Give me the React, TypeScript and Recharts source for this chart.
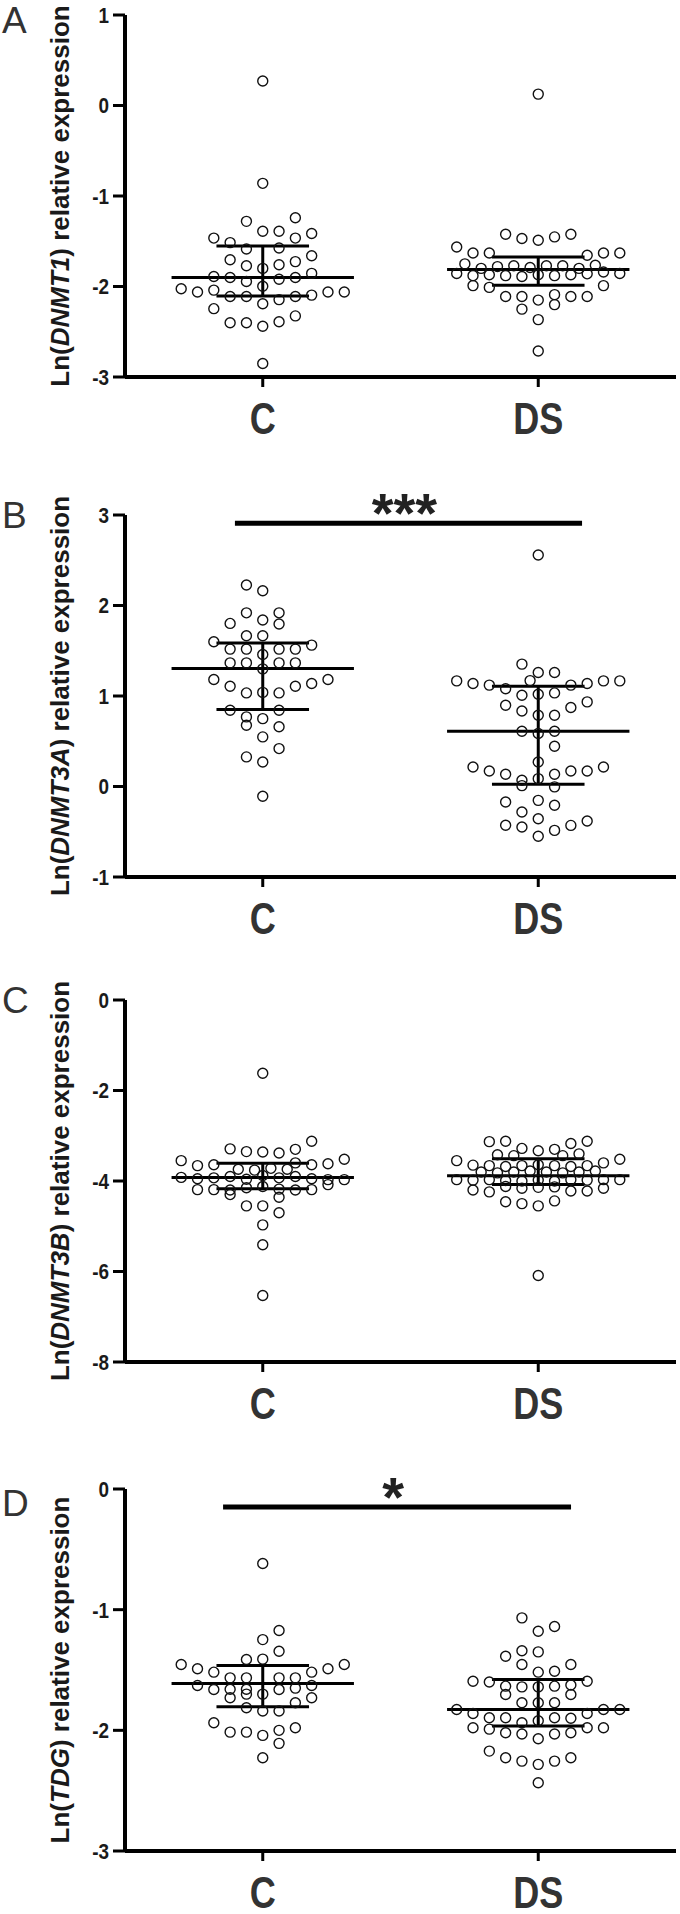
import { ScatterChart, Scatter, XAxis, YAxis, ReferenceLine } from "recharts";

// group names on the x axis
const groups = ["C", "DS"];

// each dot: [swarm column, Ln(relative expression)]
const aC = [
  [0, 0.27], [0, -0.86],
  [2, -1.24], [-1, -1.28], [0, -1.39], [1, -1.39], [3, -1.415], [-3, -1.465], [2, -1.465], [-2, -1.515],
  [-1, -1.585], [1, -1.575],
  [3, -1.66], [-2, -1.705], [2, -1.725], [-1, -1.77], [1, -1.76], [0, -1.8],
  [3, -1.855], [-3, -1.89], [-2, -1.9], [-1, -1.945], [1, -1.92], [2, -1.9],
  [0, -1.998],
  [-5, -2.025], [-4, -2.06], [-3, -2.04], [-2, -2.11], [-1, -2.11], [1, -2.145], [2, -2.11], [3, -2.095], [4, -2.06], [5, -2.06],
  [0, -2.19], [-3, -2.245], [2, -2.325], [-2, -2.4], [-1, -2.4], [1, -2.39], [0, -2.44], [0, -2.85],
];
const aDS = [
  [0, 0.126],
  [-2, -1.423], [-1, -1.47], [0, -1.489], [1, -1.452], [2, -1.423],
  [-5, -1.563], [-4, -1.63], [-3, -1.63], [3, -1.655], [4, -1.63], [5, -1.63],
  [-4.5, -1.75], [-3.5, -1.8], [-2.5, -1.78], [-1.5, -1.77], [-0.5, -1.79], [0.5, -1.77], [1.5, -1.77], [2.5, -1.8], [3.5, -1.765],
  [-5, -1.857], [-4, -1.88], [-3, -1.87], [-2, -1.88], [-1, -1.89], [0, -1.87], [1, -1.88], [2, -1.87], [3, -1.86], [4, -1.84], [5, -1.857],
  [-4, -1.99], [-3, -2.01], [4, -1.99],
  [-2, -2.11], [-1, -2.11], [0, -2.15], [1, -2.09], [2, -2.11], [3, -2.11],
  [1, -2.2], [-1, -2.25], [0, -2.366], [0, -2.713],
];
const bC = [
  [-1, 2.226], [0, 2.163], [-1, 1.919], [1, 1.919], [0, 1.839], [-2, 1.802], [1, 1.795],
  [-1, 1.665], [0, 1.665], [-3, 1.599], [3, 1.562], [-2, 1.518], [-1, 1.518], [1, 1.518], [2, 1.518],
  [0, 1.459], [-2, 1.366], [-1, 1.366], [1, 1.366], [2, 1.366], [0, 1.3],
  [-3, 1.182], [4, 1.182], [3, 1.138], [-2, 1.108], [2, 1.108], [-1, 1.034], [0, 1.04], [1, 1.034],
  [-2, 0.843], [1, 0.843], [-1, 0.769], [0, 0.75], [-1, 0.677], [1, 0.66], [0, 0.548],
  [1, 0.419], [-1, 0.327], [0, 0.271], [0, -0.108],
];
const bDS = [
  [0, 2.558], [-1, 1.352], [0, 1.26], [1, 1.26], [-0.5, 1.17],
  [-5, 1.167], [-4, 1.138], [-3, 1.12], [-2, 1.08], [2, 1.12], [3, 1.138], [4, 1.167], [5, 1.167],
  [-1, 1.009], [0, 1.02], [1, 1.034], [-2, 0.898], [3, 0.935], [-1, 0.835], [2, 0.873], [0, 0.788], [1, 0.788],
  [-1, 0.611], [0, 0.585], [1, 0.611], [1, 0.445], [0, 0.271],
  [-4, 0.216], [-3, 0.172], [-2, 0.135], [-1, 0.069], [0, 0.087], [1, 0.135], [2, 0.172], [3, 0.172], [4, 0.216],
  [-1, 0.01], [1, -0.004],
  [-2, -0.172], [0, -0.153], [1, -0.208], [-1, -0.282], [0, -0.356], [3, -0.382], [-2, -0.429], [-1, -0.448], [1, -0.485], [2, -0.43], [0, -0.55],
];
const cC = [
  [0, -1.62], [3, -3.12],
  [-2, -3.29], [-1, -3.35], [0, -3.36], [1, -3.38], [2, -3.3],
  [-5, -3.55], [-4, -3.66], [-3, -3.64], [2, -3.6], [3, -3.64], [4, -3.62], [5, -3.52],
  [-1.5, -3.74], [-0.5, -3.76], [0.5, -3.72], [1.5, -3.74],
  [-5, -3.92], [-4, -3.95], [-3, -3.93], [-2, -3.9], [-1, -3.96], [0, -3.88], [1, -3.93], [2, -3.9], [3, -3.95], [4, -3.97], [5, -3.97],
  [-4, -4.19], [-3, -4.19], [-2, -4.2], [-1, -4.15], [0, -4.12], [1, -4.18], [2, -4.2], [3, -4.19], [4, -4.08],
  [-2, -4.3], [1, -4.36], [-1, -4.55], [0, -4.55], [1, -4.7], [0, -4.97], [0, -5.41], [0, -6.53],
];
const cDS = [
  [-3, -3.13], [-2, -3.12], [2, -3.17], [3, -3.12],
  [-1, -3.28], [0, -3.33], [1, -3.3],
  [-2.5, -3.42], [-1.5, -3.44], [1.5, -3.44], [2.5, -3.4],
  [-5, -3.55], [-4, -3.65], [-3, -3.66], [-2, -3.68], [-1, -3.66], [0, -3.64], [1, -3.66], [2, -3.68], [3, -3.66], [4, -3.6], [5, -3.52],
  [-3.5, -3.8], [-2.5, -3.82], [-1.5, -3.8], [-0.5, -3.78], [0.5, -3.8], [1.5, -3.82], [2.5, -3.8], [3.5, -3.78],
  [-5, -3.97], [-4, -3.98], [-3, -3.97], [-2, -3.99], [-1, -4.0], [0, -3.98], [1, -4.0], [2, -3.97], [3, -3.98], [4, -3.97], [5, -3.97],
  [-4, -4.2], [-3, -4.24], [-2, -4.12], [-1, -4.16], [0, -4.14], [1, -4.13], [2, -4.22], [3, -4.22], [4, -4.16],
  [-2, -4.46], [-1, -4.5], [0, -4.55], [1, -4.44],
  [0, -6.09],
];
const dC = [
  [0, -0.618], [1, -1.173], [0, -1.248], [1, -1.344], [-1, -1.413], [0, -1.41],
  [-5, -1.454], [-4, -1.49], [-3, -1.518], [-2, -1.565], [-1, -1.565], [1, -1.565], [2, -1.565], [3, -1.518], [4, -1.49], [5, -1.454],
  [-4, -1.628], [-3, -1.661], [-2, -1.66], [-1, -1.66], [1, -1.661], [2, -1.65], [3, -1.628],
  [-2, -1.73], [-1, -1.7], [0, -1.7], [3, -1.73], [2, -1.772], [-1, -1.813], [0, -1.84], [1, -1.84],
  [-3, -1.937], [-2, -2.015], [-1, -2.015], [0, -2.042], [1, -2.0], [2, -1.979], [1, -2.108], [0, -2.227],
];
const dDS = [
  [-1, -1.068], [0, -1.179], [1, -1.14], [-2, -1.386], [-1, -1.34], [0, -1.35], [-1, -1.454], [2, -1.454], [0, -1.518], [1, -1.51],
  [-4, -1.593], [-3, -1.6], [-2, -1.634], [-1, -1.64], [0, -1.64], [1, -1.634], [2, -1.625], [3, -1.593],
  [-2, -1.703], [2, -1.703], [-1, -1.772], [0, -1.772], [1, -1.772],
  [-5, -1.827], [-4, -1.86], [-3, -1.896], [-2, -1.896], [-1, -1.937], [0, -1.92], [1, -1.896], [2, -1.9], [3, -1.86], [4, -1.827], [5, -1.827],
  [-4, -1.979], [-3, -1.99], [-2, -2.02], [-1, -2.03], [0, -2.07], [1, -2.03], [2, -2.02], [3, -1.979], [4, -1.979],
  [-3, -2.172], [-2, -2.227], [-1, -2.255], [0, -2.282], [1, -2.255], [2, -2.227], [0, -2.434],
];

// [centre line, upper bar, lower bar] per group
const aStats = [[-1.9, -1.552, -2.105], [-1.813, -1.673, -1.987]];
const bStats = [[1.304, 1.587, 0.85], [0.611, 1.108, 0.025]];
const cStats = [[-3.92, -3.605, -4.17], [-3.885, -3.51, -4.08]];
const dStats = [[-1.612, -1.463, -1.805], [-1.827, -1.579, -1.965]];

// y ticks
const aTicks = [-3, -2, -1, 0, 1];
const bTicks = [-1, 0, 1, 2, 3];
const cTicks = [-8, -6, -4, -2, 0];
const dTicks = [-3, -2, -1, 0];

// significance bars: [x from, x to, y, stars]
const bSig = [0.399, 1.659, 2.91, "***"];
const dSig = [0.356, 1.619, -0.149, "*"];

const SLOT = 0.0592;
const MEAN_HALF = 0.331;
const CAP_HALF = 0.168;
const SANS = "'Liberation Sans', Arial, sans-serif";

const panels = [
  { letter: "A", gene: "DNMT1", ticks: aTicks, sets: [aC, aDS], stats: aStats, sig: null, top: -25, letterTop: 2 },
  { letter: "B", gene: "DNMT3A", ticks: bTicks, sets: [bC, bDS], stats: bStats, sig: bSig, top: 475, letterTop: 497 },
  { letter: "C", gene: "DNMT3B", ticks: cTicks, sets: [cC, cDS], stats: cStats, sig: null, top: 960, letterTop: 982 },
  { letter: "D", gene: "TDG", ticks: dTicks, sets: [dC, dDS], stats: dStats, sig: dSig, top: 1449, letterTop: 1485 },
];

const Ring = (p: any) => (
  <circle cx={p.cx} cy={p.cy} r={5} fill="none" stroke="#111" strokeWidth={1.4} />
);

// condensed bold group label under the axis
const XTick = (p: any) => (
  <g transform={`translate(${p.x} ${p.y}) scale(0.82 1)`}>
    <text x={0} y={0} dy="0.72em" textAnchor="middle" fontFamily={SANS} fontWeight={700}
      fontSize={44} fill="#333">{groups[Math.floor(p.payload.value)]}</text>
  </g>
);

const YTick = (p: any) => (
  <g transform={`translate(${p.x} ${p.y}) scale(0.86 1)`}>
    <text x={0} y={0} dy="0.36em" textAnchor="end" fontFamily={SANS} fontWeight={700}
      fontSize={22} fill="#1a1a1a">{p.payload.value}</text>
  </g>
);

const YLabel = (p: any) => {
  const vb = p.viewBox || { x: 0, y: 0, width: 0, height: 0 };
  const cx = 69;
  const cy = vb.y + vb.height / 2;
  return (
    <text x={cx} y={cy} transform={`rotate(-90 ${cx} ${cy})`} textAnchor="middle"
      fontFamily={SANS} fontWeight={700} fontSize={26} fill="#1a1a1a">
      <tspan>Ln(</tspan><tspan fontStyle="italic">{p.gene}</tspan><tspan>) relative expression</tspan>
    </text>
  );
};

const Stars = (p: any) => {
  const vb = p.viewBox || { x: 0, y: 0, width: 0, height: 0 };
  return (
    <text x={vb.x + vb.width / 2 - 4} y={vb.y + 9} textAnchor="middle"
      fontFamily={SANS} fontWeight={700} fontSize={56} fill="#222">{p.text}</text>
  );
};

function Panel({ cfg }: { cfg: any }) {
  const lo = cfg.ticks[0];
  const hi = cfg.ticks[cfg.ticks.length - 1];
  return (
    <div style={{ position: "absolute", left: 0, top: cfg.top }}>
      <ScatterChart width={680} height={500} margin={{ top: 40, right: 4, bottom: 0, left: 0 }}>
        <XAxis type="number" dataKey="x" domain={[0, 2]} ticks={[0.5, 1.5]} interval={0}
          height={98} tickSize={10} tickMargin={15}
          axisLine={{ stroke: "#000", strokeWidth: 4 }} tickLine={{ stroke: "#000", strokeWidth: 3 }}
          tick={<XTick />} />
        <YAxis type="number" dataKey="y" domain={[lo, hi]} ticks={cfg.ticks} interval={0}
          width={125} tickSize={12} tickMargin={4}
          axisLine={{ stroke: "#000", strokeWidth: 4 }} tickLine={{ stroke: "#000", strokeWidth: 3 }}
          tick={<YTick />}
          label={<YLabel gene={cfg.gene} />} />
        {cfg.stats.map((s: number[], gi: number) => {
          const c = gi + 0.5;
          return [
            <ReferenceLine key={`m${gi}`} segment={[{ x: c - MEAN_HALF, y: s[0] }, { x: c + MEAN_HALF, y: s[0] }]} stroke="#000" strokeWidth={3} />,
            <ReferenceLine key={`u${gi}`} segment={[{ x: c - CAP_HALF, y: s[1] }, { x: c + CAP_HALF, y: s[1] }]} stroke="#000" strokeWidth={3} />,
            <ReferenceLine key={`l${gi}`} segment={[{ x: c - CAP_HALF, y: s[2] }, { x: c + CAP_HALF, y: s[2] }]} stroke="#000" strokeWidth={3} />,
            <ReferenceLine key={`v${gi}`} segment={[{ x: c, y: s[2] }, { x: c, y: s[1] }]} stroke="#000" strokeWidth={3} />,
          ];
        })}
        {cfg.sig && (
          <ReferenceLine segment={[{ x: cfg.sig[0], y: cfg.sig[2] }, { x: cfg.sig[1], y: cfg.sig[2] }]}
            stroke="#000" strokeWidth={5} ifOverflow="visible" label={<Stars text={cfg.sig[3]} />} />
        )}
        {cfg.sets.map((set: number[][], gi: number) => (
          <Scatter key={gi} data={set.map(([slot, v]) => ({ x: gi + 0.5 + slot * SLOT, y: v }))}
            shape={Ring} isAnimationActive={false} />
        ))}
      </ScatterChart>
      <div style={{ position: "absolute", left: 2, top: cfg.letterTop - cfg.top, fontFamily: SANS, fontSize: 37, lineHeight: 1, color: "#333" }}>
        {cfg.letter}
      </div>
    </div>
  );
}

export default function App() {
  return (
    <div style={{ position: "absolute", left: 0, top: 0, width: 680, height: 1914, background: "#fff" }}>
      {panels.map((p) => <Panel key={p.letter} cfg={p} />)}
    </div>
  );
}
